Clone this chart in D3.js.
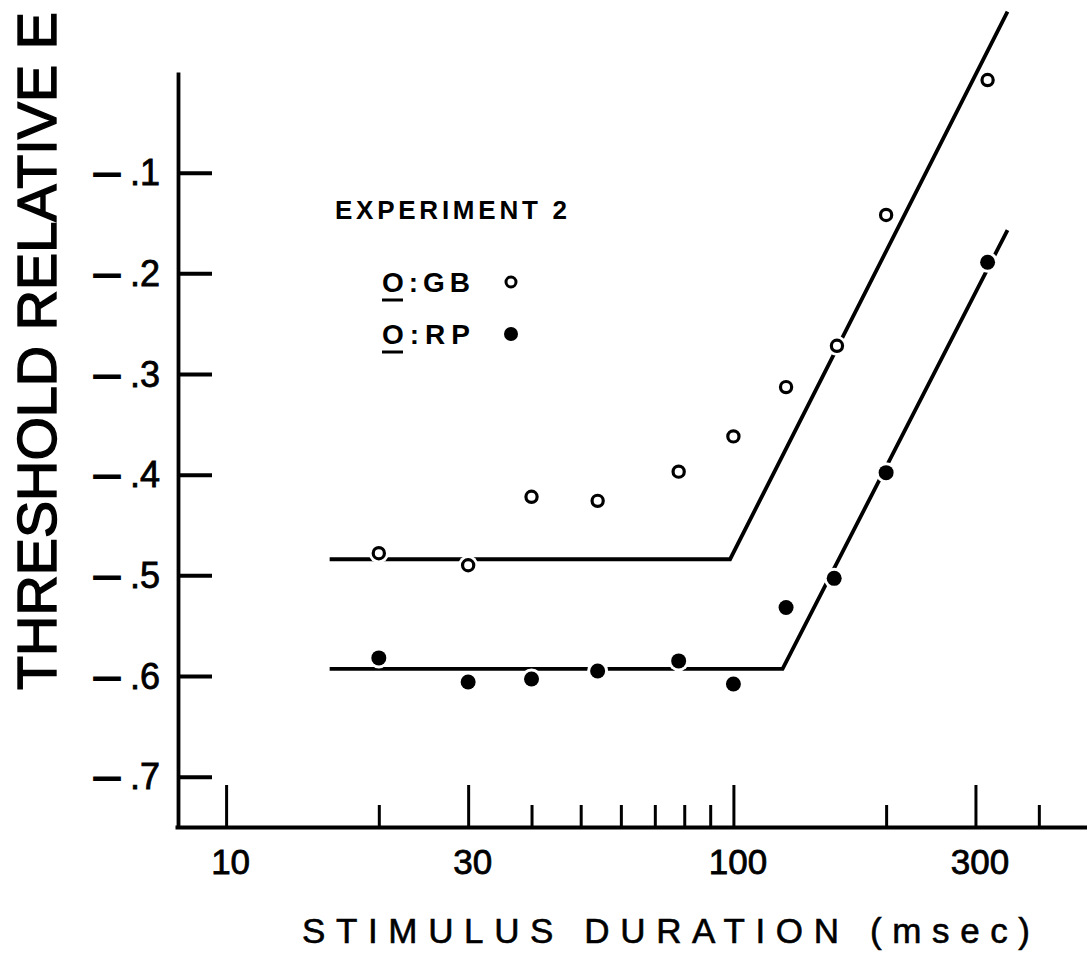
<!DOCTYPE html>
<html>
<head>
<meta charset="utf-8">
<script src="https://cdn.jsdelivr.net/npm/d3@7/dist/d3.min.js"></script>
<style>
  html, body { margin: 0; padding: 0; background: #fff; }
  svg { display: block; }
  text { font-family: "Liberation Sans", Arial, sans-serif; fill: #000; }
</style>
</head>
<body>
<svg id="chart" width="1087" height="957"></svg>
<script>
// ---- data ----
const gbDurations = [20, 30, 40, 54, 78, 100, 127, 160, 200, 317];
const gbValues    = [-0.478, -0.490, -0.422, -0.426, -0.397, -0.362, -0.313, -0.272, -0.142, -0.008];
const rpDurations = [20, 30, 40, 54, 78, 100, 127, 158, 200, 317];
const rpValues    = [-0.582, -0.606, -0.603, -0.595, -0.585, -0.608, -0.532, -0.503, -0.398, -0.189];
// fitted lines (duration, value)
const gbFitX = [16, 98.5, 347];
const gbFitY = [-0.484, -0.484, 0.060];
const rpFitX = [16, 125, 347];
const rpFitY = [-0.593, -0.593, -0.157];
// axes
const xMajorTicks = [10, 30, 100, 300];
const xMinorTicks = [20, 40, 50, 60, 70, 80, 90, 200, 400];
const yTicks = [-0.1, -0.2, -0.3, -0.4, -0.5, -0.6, -0.7];
const yTickLabels = [".1", ".2", ".3", ".4", ".5", ".6", ".7"];
const xTitle = "STIMULUS DURATION (msec)";
const yTitle = "THRESHOLD RELATIVE E";
const legendTitle = "EXPERIMENT 2";
const seriesNames = ["GB", "RP"];

// ---- scales ----
const svg = d3.select("#chart");
const x = d3.scaleLog().domain([7.93, 500]).range([175, 1088]);
const y = d3.scaleLinear().domain([-0.75, 0]).range([827, 72]);

// ---- x axis ----
const gxMinor = svg.append("g").attr("transform", `translate(0,${y(-0.75)})`)
  .call(d3.axisBottom(x).tickValues(xMinorTicks).tickSize(-22).tickSizeOuter(0).tickFormat(""));
gxMinor.select(".domain").attr("stroke-width", 3.8);
gxMinor.selectAll(".tick line").attr("stroke-width", 3);

const gxMajor = svg.append("g").attr("transform", `translate(0,${y(-0.75)})`)
  .call(d3.axisBottom(x).tickValues(xMajorTicks).tickSize(-42).tickSizeOuter(0)
        .tickPadding(22).tickFormat(d3.format("d")));
gxMajor.select(".domain").remove();
gxMajor.selectAll(".tick line").attr("stroke-width", 3);
gxMajor.selectAll(".tick text")
  .attr("font-size", 35).attr("font-family", "Liberation Sans, Arial, sans-serif")
  .attr("stroke", "#000").attr("stroke-width", 0.8)
  .attr("dx", 4).attr("fill", "#000");

// ---- y axis ----
const gy = svg.append("g").attr("transform", `translate(${x.range()[0] + 3},0)`)
  .call(d3.axisLeft(y).tickValues(yTicks).tickSize(-34).tickSizeOuter(0).tickFormat(""));
gy.select(".domain").attr("stroke-width", 3.8);
gy.selectAll(".tick line").attr("stroke-width", 4);
gy.selectAll(".tick text").remove();
gy.selectAll(".tick").each(function(d, i) {
  const t = d3.select(this).append("text")
    .attr("font-size", 36).attr("text-anchor", "start").attr("y", 12)
    .attr("stroke", "#000").attr("stroke-width", 0.8);
  t.append("tspan").attr("x", 94 - 178).attr("font-size", 26).attr("font-weight", "bold")
    .attr("dy", -3).attr("stroke-width", 1.8).text("\u2014");
  t.append("tspan").attr("x", 130 - 178).attr("dy", 3).text(yTickLabels[i]);
});

// ---- titles ----
svg.append("text")
  .attr("transform", "translate(56,690) rotate(-90)")
  .attr("font-size", 55)
  .attr("stroke", "#000").attr("stroke-width", 1.4)
  .attr("textLength", 678).attr("lengthAdjust", "spacingAndGlyphs")
  .text(yTitle);

svg.append("text")
  .attr("x", 302).attr("y", 943)
  .attr("font-size", 35)
  .attr("stroke", "#000").attr("stroke-width", 0.6)
  .attr("textLength", 728).attr("lengthAdjust", "spacing")
  .text(xTitle);

// ---- fit lines ----
const line = d3.line().x(d => x(d[0])).y(d => y(d[1]));
const fits = [d3.zip(gbFitX, gbFitY), d3.zip(rpFitX, rpFitY)];
svg.append("g").selectAll("path").data(fits).join("path")
  .attr("d", line).attr("fill", "none").attr("stroke", "#000")
  .attr("stroke-width", 3.8).attr("stroke-linejoin", "miter");

// ---- points ----
const gbPts = d3.zip(gbDurations, gbValues);
const rpPts = d3.zip(rpDurations, rpValues);
const gp = svg.append("g");
gp.selectAll("circle.halo-gb").data(gbPts).join("circle")
  .attr("cx", d => x(d[0])).attr("cy", d => y(d[1])).attr("r", 10).attr("fill", "#fff");
gp.selectAll("circle.halo-rp").data(rpPts).join("circle")
  .attr("cx", d => x(d[0])).attr("cy", d => y(d[1])).attr("r", 10.5).attr("fill", "#fff");
gp.selectAll("circle.gb").data(gbPts).join("circle").attr("class", "gb")
  .attr("cx", d => x(d[0])).attr("cy", d => y(d[1])).attr("r", 5.6)
  .attr("fill", "#fff").attr("stroke", "#000").attr("stroke-width", 3.2);
gp.selectAll("circle.rp").data(rpPts).join("circle").attr("class", "rp")
  .attr("cx", d => x(d[0])).attr("cy", d => y(d[1])).attr("r", 7.5)
  .attr("fill", "#000");

// ---- legend ----
const lg = svg.append("g");
lg.append("text").attr("x", 335).attr("y", 219)
  .attr("font-size", 26).attr("font-weight", "bold")
  .attr("textLength", 232).attr("lengthAdjust", "spacing")
  .text(legendTitle);
seriesNames.forEach((name, i) => {
  const by = 292 + i * 52;
  const t = lg.append("text").attr("x", 382).attr("y", by)
    .attr("font-size", 28).attr("font-weight", "bold")
    .attr("textLength", 88).attr("lengthAdjust", "spacing");
  t.append("tspan").text("O");
  t.append("tspan").text(":" + name);
  lg.append("line").attr("x1", 382).attr("x2", 403).attr("y1", by + 8).attr("y2", by + 8)
    .attr("stroke", "#000").attr("stroke-width", 3);
  if (i === 0) {
    lg.append("circle").attr("cx", 511).attr("cy", by - 10).attr("r", 5)
      .attr("fill", "#fff").attr("stroke", "#000").attr("stroke-width", 3);
  } else {
    lg.append("circle").attr("cx", 511).attr("cy", by - 10).attr("r", 7).attr("fill", "#000");
  }
});
</script>
</body>
</html>
